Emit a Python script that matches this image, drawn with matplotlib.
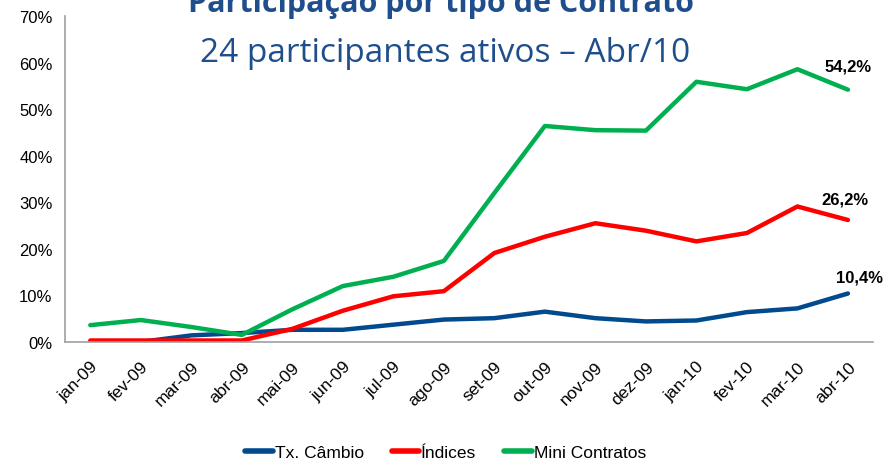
import matplotlib.pyplot as plt
import matplotlib.ticker as ticker

meses = ['jan-09', 'fev-09', 'mar-09', 'abr-09', 'mai-09', 'jun-09', 'jul-09', 'ago-09',
         'set-09', 'out-09', 'nov-09', 'dez-09', 'jan-10', 'fev-10', 'mar-10', 'abr-10']
cambio = [0.0, 0.0, 1.4, 1.9, 2.6, 2.6, 3.7, 4.8, 5.1, 6.5, 5.1, 4.4, 4.6, 6.4, 7.2, 10.4]
indices = [0.3, 0.3, 0.3, 0.3, 2.8, 6.7, 9.8, 10.9, 19.1, 22.6, 25.5, 23.9, 21.6, 23.4, 29.1, 26.2]
mini = [3.6, 4.7, 3.2, 1.5, 7.0, 12.0, 14.0, 17.4, 32.0, 46.4, 45.5, 45.4, 55.9, 54.3, 58.6, 54.2]

azul = '#004A8D'
vermelho = '#FF0000'
verde = '#00B050'
fonte = ['Liberation Sans Narrow', 'Liberation Sans', 'DejaVu Sans']

plt.rcParams['font.family'] = fonte

fig = plt.figure(figsize=(8.91, 4.64), dpi=100)
ax = fig.add_axes([0.073, 0.261, 0.907, 0.702])

x = range(len(meses))
ax.plot(x, cambio, color=azul, lw=3.2, solid_capstyle='round', label='Tx. Câmbio')
ax.plot(x, indices, color=vermelho, lw=3.2, solid_capstyle='round', label='Índices')
ax.plot(x, mini, color=verde, lw=3.2, solid_capstyle='round', label='Mini Contratos')

ax.set_xlim(-0.5, 15.5)
ax.set_ylim(0, 70)
ax.yaxis.set_major_locator(ticker.MultipleLocator(10))
ax.yaxis.set_major_formatter(ticker.FuncFormatter(lambda v, pos: '%d%%' % v))
ax.set_xticks(list(x))
ax.set_xticklabels(meses, rotation=45, ha='right', rotation_mode='anchor', fontsize=12.5)
for lbl in ax.get_yticklabels():
    lbl.set_fontsize(12)
ax.tick_params(axis='both', length=0, pad=9)
ax.tick_params(axis='x', pad=12)

for s in ['top', 'right']:
    ax.spines[s].set_visible(False)
for s in ['left', 'bottom']:
    ax.spines[s].set_color('#A0A0A0')
    ax.spines[s].set_linewidth(1.2)

# rótulos do último ponto
ultimo = len(meses) - 1
ax.annotate('54,2%', (ultimo, mini[-1]), textcoords='offset points', xytext=(0, 14),
            ha='center', fontsize=12, fontweight='bold')
ax.annotate('26,2%', (ultimo, indices[-1]), textcoords='offset points', xytext=(-2, 12),
            ha='center', fontsize=12, fontweight='bold')
ax.annotate('10,4%', (ultimo, cambio[-1]), textcoords='offset points', xytext=(8, 9),
            ha='center', fontsize=12, fontweight='bold')

fig.text(0.495, 0.974, 'Participação por tipo de Contrato', ha='center', va='baseline',
         fontsize=22, fontweight='bold', color='#1F4E8C', family='Open Sans')
fig.text(0.500, 0.866, '24 participantes ativos – Abr/10', ha='center', va='baseline',
         fontsize=24, color='#1F4E8C', family='Open Sans')

fig.legend(loc='lower center', bbox_to_anchor=(0.5, -0.028), ncol=3, frameon=False,
           prop={'size': 12.5}, handlelength=1.6, handletextpad=0.1, columnspacing=1.6)
for h in fig.legends[0].get_lines():
    h.set_linewidth(4)

fig.savefig('out.png', dpi=100)
